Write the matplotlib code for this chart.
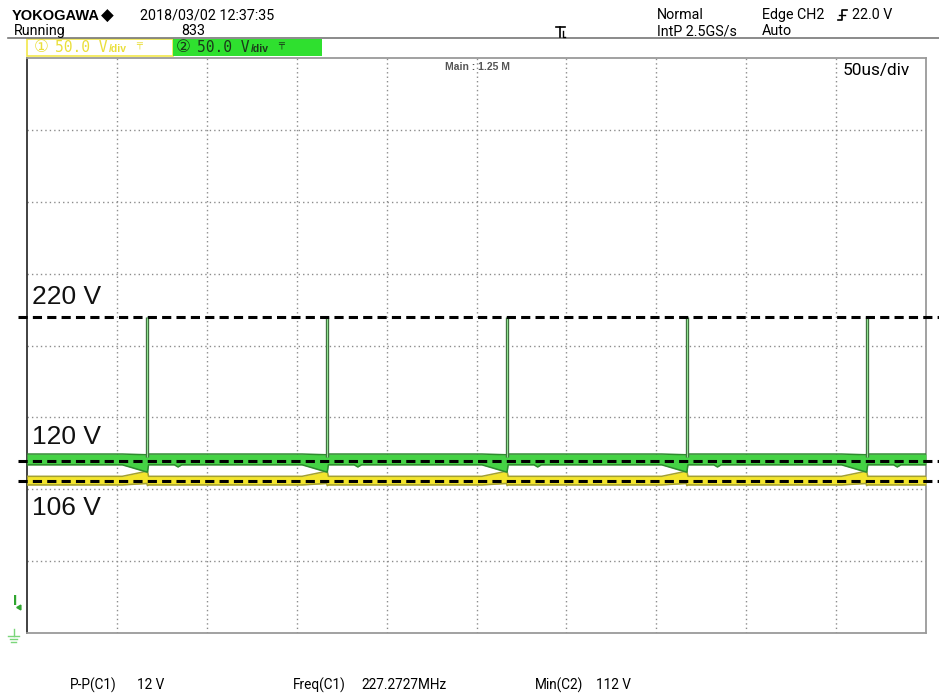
import numpy as np
import matplotlib
matplotlib.use("Agg")
import matplotlib.pyplot as plt
from matplotlib import font_manager
from matplotlib.lines import Line2D
from matplotlib.patches import Rectangle

# ---- acquisition data (time in us, voltage in V) ----
time_span_us = 500          # 10 div x 50 us
volt_span = 400             # 8 div x 50 V
spike_times_us = [67, 167, 267, 367, 467]
spike_peak_v = 220
ref_levels_v = [220, 120, 106]
ref_labels = ["220 V", "120 V", "106 V"]

# envelope of each channel around one switching event (offset from the spike, us)
profile_dt_us = [-14, -0.4, 0.0, 0.6, 15, 17, 19]
ch2_upper_v = [124.5, 124.0, 124.5, 124.5, 124.5, 124.5, 124.5]
ch2_lower_v = [117.0, 112.0, 112.0, 117.0, 117.0, 115.5, 117.0]
ch1_upper_v = [109.0, 112.5, 112.5, 109.0, 109.0, 109.0, 109.0]
ch1_lower_v = [103.0, 104.0, 102.5, 103.0, 103.0, 103.0, 103.0]
trigger_level_v = 22.0

header_left = ["2018/03/02 12:37:35", "833"]
header_right = [("Normal", "IntP 2.5GS/s"), ("Edge CH2", "Auto")]
measurements = [("P-P(C1)", "12 V"), ("Freq(C1)", "227.2727MHz"), ("Min(C2)", "112 V")]

W, H = 939, 695
installed = {f.name for f in font_manager.fontManager.ttflist}


def pick(*names):
    for n in names:
        if n in installed:
            return n
    return "DejaVu Sans"


NARROW = pick("Liberation Sans Narrow", "DejaVu Sans Condensed", "Roboto")
SANS = pick("Liberation Sans", "Arial", "DejaVu Sans")
MONO = pick("DejaVu Sans Mono", "Liberation Mono")
narrow_scale = 1.0 if NARROW == "Liberation Sans Narrow" else 0.89

fig = plt.figure(figsize=(W / 100, H / 100), dpi=100)
fig.patch.set_facecolor("white")


def fx(px):
    return px / W


def fy(py):
    return 1 - py / H


def ftext(px, py, s, size, **kw):
    kw.setdefault("family", NARROW)
    kw.setdefault("va", "center")
    kw.setdefault("ha", "left")
    fig.text(fx(px), fy(py), s, fontsize=size * narrow_scale if kw["family"] == NARROW else size, **kw)


# ---- screen area ----
ax = fig.add_axes([fx(27), 1 - 633 / H, fx(926) - fx(27), (633 - 58) / H])
ax.set_xlim(0, time_span_us)
ax.set_ylim(0, volt_span)
ax.set_xticks([])
ax.set_yticks([])
for s in ["top", "right", "bottom"]:
    ax.spines[s].set_color("#9a9a9a")
    ax.spines[s].set_linewidth(1.3)
ax.spines["left"].set_color("#333333")
ax.spines["left"].set_linewidth(1.3)
ax.spines["left"].set_linestyle((0, (3, 1)))

for xv in np.arange(50, time_span_us, 50):
    ax.axvline(xv, color="#8c8c8c", lw=1.0, ls=(0, (1, 2.2)), zorder=1)
for yv in np.arange(50, volt_span, 50):
    ax.axhline(yv, color="#8c8c8c", lw=1.0, ls=(0, (1, 2.2)), zorder=1)


def envelope(vals, base):
    t = [0.0]
    v = [base]
    for ts in spike_times_us:
        for dt, val in zip(profile_dt_us, vals):
            t.append(ts + dt)
            v.append(val)
    t.append(float(time_span_us))
    v.append(base)
    return np.array(t), np.array(v)


t, c1_hi = envelope(ch1_upper_v, ch1_upper_v[0])
_, c1_lo = envelope(ch1_lower_v, ch1_lower_v[0])
_, c2_hi = envelope(ch2_upper_v, ch2_upper_v[0])
_, c2_lo = envelope(ch2_lower_v, ch2_lower_v[0])

# CH1 (yellow)
ax.fill_between(t, c1_lo, c1_hi, color="#f3e52c", lw=0, zorder=3)
ax.plot(t, c1_hi, color="#a3a032", lw=1.1, zorder=3)
ax.plot(t, c1_lo, color="#a3a032", lw=1.1, zorder=3)

# CH2 (green)
ax.fill_between(t, c2_lo, c2_hi, color="#45d245", lw=0, zorder=4)
ax.plot(t, c2_hi, color="#2f8a2f", lw=1.1, zorder=4)
ax.plot(t, c2_lo, color="#2f8a2f", lw=1.1, zorder=4)
for ts in spike_times_us:
    ax.plot([ts, ts], [c2_hi[0] - 2, spike_peak_v], color="#3c6e3c", lw=2.4,
            solid_capstyle="butt", zorder=5)
    ax.plot([ts, ts], [c2_hi[0] - 2, spike_peak_v - 0.5], color="#8fe08f", lw=0.8,
            solid_capstyle="butt", zorder=6)

# reference levels, running past the screen edges
label_offsets_v = [14, 16.5, -19]
for lvl, lab, off in zip(ref_levels_v, ref_labels, label_offsets_v):
    ax.plot([-5, 508], [lvl, lvl], color="black", lw=2.2, dashes=[3.0, 1.7],
            clip_on=False, zorder=8)
    ax.text(3, lvl + off, lab, family=SANS, fontsize=19, va="center",
            ha="left", color="#111111", zorder=9)

# trigger level and ground markers on the left edge
ax.text(-6.5, trigger_level_v, "I", family=SANS, fontsize=11, fontweight="bold",
        color="#2fa52f", ha="center", va="center", clip_on=False)
ax.plot([-4.5], [trigger_level_v - 4], marker=(3, 0, -30), ms=4, color="#2fa52f",
        clip_on=False)
for i, half in enumerate([3.2, 2.2, 1.2]):
    ax.plot([-7.5 - half, -7.5 + half], [-2 - i * 2.2] * 2, color="#7ad67a", lw=1.0,
            clip_on=False)
ax.plot([-7.5, -7.5], [-2, 3], color="#7ad67a", lw=1.0, clip_on=False)

# on-screen annotations
fig.text(fx(477), fy(67), "Main : 1.25 M", family=SANS, fontsize=7.5,
         fontweight="bold", color="#555555", ha="center", va="center")
ftext(843, 70, "50us/div", 14)

# ---- header ----
ftext(12, 16, "YOKOGAWA", 10.5, family=SANS, fontweight="bold")
ftext(101, 16, "\u25c6", 12, family="DejaVu Sans")
ftext(140, 16, header_left[0], 11.5)
ftext(14, 31, "Running", 11.5)
ftext(181, 31, header_left[1], 11.5)
ftext(657, 15, header_right[0][0], 11.5)
ftext(657, 31, header_right[0][1], 11.5)
ftext(762, 15, header_right[1][0], 11.5)
ftext(762, 31, header_right[1][1], 11.5)
ftext(852, 15, "22.0 V", 11.5)
fig.add_artist(Line2D([fx(8), fx(939)], [fy(38), fy(38)], color="#777777", lw=1.2))

# rising-edge glyph
fig.add_artist(Line2D([fx(838), fx(842), fx(842), fx(847)],
                      [fy(20), fy(20), fy(10), fy(10)], color="black", lw=1.2))
fig.add_artist(Line2D([fx(839), fx(845)], [fy(15), fy(15)], color="black", lw=1.0))
# trigger position mark
fig.add_artist(Line2D([fx(556), fx(565)], [fy(27), fy(27)], color="black", lw=1.2))
fig.add_artist(Line2D([fx(560), fx(560)], [fy(27), fy(37)], color="black", lw=1.2))
fig.add_artist(Line2D([fx(563), fx(563), fx(565)], [fy(31), fy(37), fy(37)], color="black", lw=1.0))

# channel tags
fig.add_artist(Rectangle((fx(27), fy(56)), fx(173) - fx(27), (56 - 39) / H,
                         facecolor="white", edgecolor="#f2e84a", lw=1.2))
fig.add_artist(Rectangle((fx(173), fy(56)), fx(322) - fx(173), (56 - 39) / H,
                         facecolor="#2fe02f", edgecolor="none"))
for x0, col, num in [(34, "#eadf3a", "\u2460"), (176, "#1a3a1a", "\u2461")]:
    ftext(x0, 47.5, num, 12, family=["DejaVu Sans", "Noto Sans CJK SC"], color=col)
    ftext(x0 + 21, 47.5, "50.0 V", 10.5, family=MONO, color=col)
    ftext(x0 + 75, 49.5, "/div", 7.5, family=SANS, fontweight="bold", color=col)
    ftext(x0 + 102, 45.5, "\u2564", 7, family="DejaVu Sans", color=col)

# ---- measurements ----
xs = [(70, 137), (293, 361), (535, 596)]
for (name, val), (x0, x1) in zip(measurements, xs):
    ftext(x0, 685, name, 11)
    ftext(x1, 685, val, 11)

fig.savefig("out.png", dpi=100, facecolor="white")
